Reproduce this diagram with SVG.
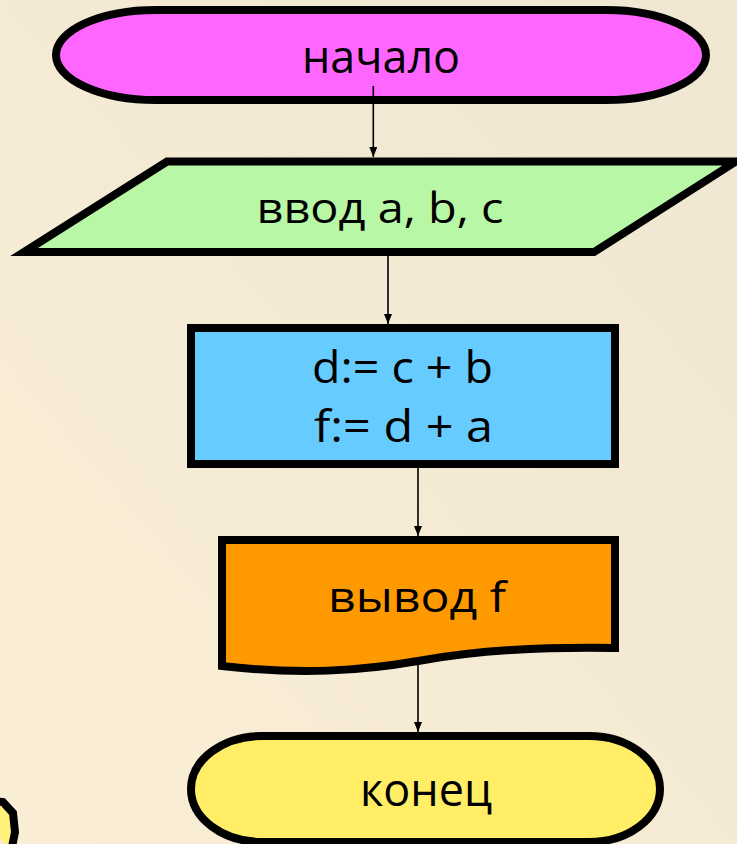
<svg xmlns="http://www.w3.org/2000/svg" width="737" height="844" viewBox="0 0 737 844">
<defs>
<linearGradient id="bg" x1="1" y1="0" x2="0" y2="1">
<stop offset="0" stop-color="#efe7d2"/>
<stop offset="1" stop-color="#fbeed6"/>
</linearGradient>
<marker id="ah" markerUnits="userSpaceOnUse" markerWidth="10" markerHeight="8" refX="10" refY="4" orient="auto">
<path d="M0,0 L10,4 L0,8 Z" fill="#000"/>
</marker>
</defs>
<style>
.sh{stroke:#000;stroke-width:8;stroke-linejoin:miter}
.t{font-family:"Open Sans","Noto Sans","DejaVu Sans",sans-serif;fill:#000;text-anchor:middle}
.c{stroke:#000;stroke-width:1.6;fill:none;marker-end:url(#ah)}
</style>
<rect width="737" height="844" fill="url(#bg)"/>
<path d="M-30,799 L3,802 L13,813 L15,832 L11,852" fill="#fff27a" stroke="#000" stroke-width="8"/>
<g id="start">
<path class="sh" d="M156,10 H606 A100,45 0 0 1 606,100 H156 A100,45 0 0 1 156,10 Z" fill="#ff66ff"/>
<text class="t" x="381" y="73" font-size="46" textLength="158" lengthAdjust="spacingAndGlyphs">начало</text>
</g>
<g id="input">
<path class="sh" d="M167,161.5 L736,161.5 L594,252 L24,252 Z" fill="#b8f7a5"/>
<text class="t" x="380" y="223" font-size="42" textLength="247" lengthAdjust="spacingAndGlyphs">ввод a, b, c</text>
</g>
<g id="process">
<rect class="sh" x="191" y="328" width="424" height="136" fill="#66ccff"/>
<text class="t" x="402.5" y="383" font-size="44" textLength="181" lengthAdjust="spacingAndGlyphs">d:= c + b</text>
<text class="t" x="403.5" y="442" font-size="44" textLength="179" lengthAdjust="spacingAndGlyphs">f:= d + a</text>
</g>
<g id="output">
<path class="sh" d="M222,540 H615 V648 C540,647 480,650 418,661 C360,671 300,675 222,666 Z" fill="#ff9900"/>
<text class="t" x="417" y="612" font-size="42" textLength="178" lengthAdjust="spacingAndGlyphs">вывод f</text>
</g>
<g id="end">
<path class="sh" d="M262,736 H589 A71,53 0 0 1 589,842 H262 A71,53 0 0 1 262,736 Z" fill="#ffee66"/>
<text class="t" x="426" y="806" font-size="46" textLength="132" lengthAdjust="spacingAndGlyphs">конец</text>
</g>
<g id="connectors">
<line class="c" x1="373.3" y1="86" x2="373.3" y2="157"/>
<line class="c" x1="388" y1="256" x2="388" y2="324"/>
<line class="c" x1="418" y1="468" x2="418" y2="536"/>
<line class="c" x1="418" y1="661" x2="418" y2="732"/>
</g>
</svg>
